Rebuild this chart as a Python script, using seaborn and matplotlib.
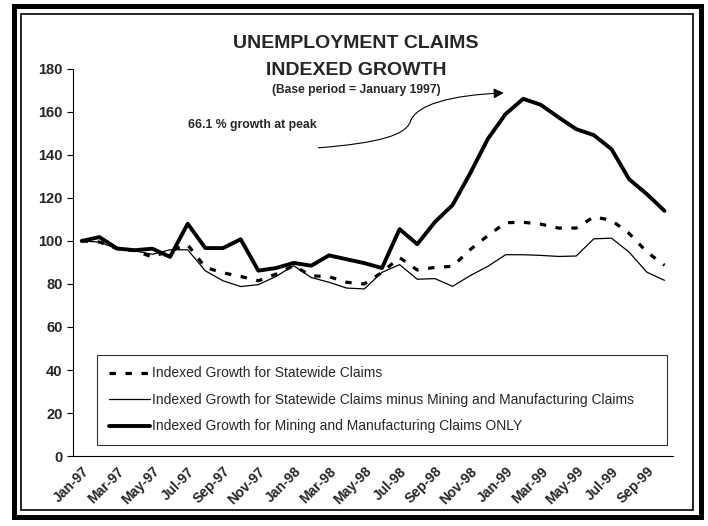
import matplotlib
matplotlib.use("Agg")
import matplotlib.pyplot as plt
import seaborn as sns
from matplotlib.patches import Rectangle, FancyArrowPatch
from matplotlib.path import Path

months = ['Jan-97', 'Feb-97', 'Mar-97', 'Apr-97', 'May-97', 'Jun-97', 'Jul-97', 'Aug-97',
          'Sep-97', 'Oct-97', 'Nov-97', 'Dec-97', 'Jan-98', 'Feb-98', 'Mar-98', 'Apr-98',
          'May-98', 'Jun-98', 'Jul-98', 'Aug-98', 'Sep-98', 'Oct-98', 'Nov-98', 'Dec-98',
          'Jan-99', 'Feb-99', 'Mar-99', 'Apr-99', 'May-99', 'Jun-99', 'Jul-99', 'Aug-99',
          'Sep-99', 'Oct-99']

statewide = [100, 99.5, 96.4, 95.5, 92.5, 95.7, 98.2, 87.7, 85.2, 83.5, 81.5, 84.6,
             88.5, 83.8, 83.4, 80.8, 80.0, 85.4, 92.3, 86.5, 87.7, 88.2, 96.0, 102.5,
             108.5, 108.7, 107.8, 106.0, 106.0, 111.2, 109.6, 103.5, 94.9, 88.7]

statewide_minus = [100, 99.5, 96.3, 95.4, 93.8, 95.9, 95.9, 86.1, 81.5, 78.8, 79.7, 83.5,
                   88.5, 83.0, 80.8, 78.1, 77.7, 85.4, 89.0, 82.2, 82.5, 78.9, 83.9, 88.2,
                   93.6, 93.6, 93.3, 92.8, 93.0, 101.0, 101.3, 94.8, 85.5, 81.7]

mining_mfg = [100, 101.8, 96.5, 95.7, 96.4, 92.6, 108.0, 96.7, 96.7, 100.8, 86.2, 87.4,
              89.8, 88.5, 93.3, 91.5, 89.7, 87.4, 105.5, 98.5, 108.8, 116.7, 131.5, 147.5,
              159.0, 166.1, 163.3, 157.5, 152.0, 149.2, 142.7, 128.7, 121.8, 114.0]

labels = ['Indexed Growth for Statewide Claims',
          'Indexed Growth for Statewide Claims minus Mining and Manufacturing Claims',
          'Indexed Growth for Mining and Manufacturing Claims ONLY']

sns.set_style("white")
plt.rcParams['font.family'] = ['Liberation Sans', 'DejaVu Sans']

x = list(range(len(months)))

fig = plt.figure(figsize=(7.08, 5.26), dpi=100)
ax = fig.add_axes([0.103, 0.133, 0.848, 0.736])

sns.lineplot(x=x, y=statewide, ax=ax, color='black', linewidth=2.3,
             label=labels[0]).lines[-1].set_dashes((2.0, 3.0))
sns.lineplot(x=x, y=statewide_minus, ax=ax, color='black', linewidth=0.9, label=labels[1])
sns.lineplot(x=x, y=mining_mfg, ax=ax, color='black', linewidth=2.8, label=labels[2])

ax.set_xlim(-0.5, len(months) - 0.5)
ax.set_ylim(0, 180)
ax.set_yticks(range(0, 181, 20))
ax.set_yticklabels([str(v) for v in range(0, 181, 20)], fontweight='bold', fontsize=10.5)
ax.set_xticks(x[::2])
ax.set_xticklabels(months[::2], rotation=45, ha='right', rotation_mode='anchor',
                   fontweight='bold', fontsize=10)
ax.set_xticks([i - 0.5 for i in x[::2]] + [len(months) - 0.5], minor=True)
ax.tick_params(axis='x', which='major', length=0, pad=6)
ax.tick_params(axis='x', which='minor', length=4, width=0.8, direction='out', color='black')
ax.tick_params(axis='y', length=4, width=0.8, direction='out', color='black', left=True)
ax.set_xlabel('')
ax.set_ylabel('')
for s in ['top', 'right']:
    ax.spines[s].set_visible(False)
for s in ['left', 'bottom']:
    ax.spines[s].set_color('black')
    ax.spines[s].set_linewidth(0.8)

leg = ax.legend(loc='upper left', bbox_to_anchor=(0.04, 0.262, 0.95, 0.0), mode='expand',
                frameon=True, fancybox=False, shadow=False,
                prop={'size': 10},
                labelspacing=0.9, handlelength=3.0, handletextpad=0.15,
                borderpad=0.85, borderaxespad=0)
leg.get_frame().set_edgecolor('black')
leg.get_frame().set_linewidth(0.8)

fig.text(0.503, 0.918, 'UNEMPLOYMENT CLAIMS', ha='center', va='center',
         fontsize=14, fontweight='bold')
fig.text(0.503, 0.866, 'INDEXED GROWTH', ha='center', va='center',
         fontsize=14, fontweight='bold')
fig.text(0.503, 0.829, '(Base period = January 1997)', ha='center', va='center',
         fontsize=8.7, fontweight='bold')

ax.text(6.0, 154, '66.1 % growth at peak', ha='left', va='center',
        fontsize=8.8, fontweight='bold')
arrow_path = Path([(13.4, 143.3), (16.9, 145.6), (18.3, 149.3), (18.6, 155.3),
                   (18.9, 163.3), (20.9, 167.9), (23.9, 168.8)],
                  [Path.MOVETO, Path.CURVE4, Path.CURVE4, Path.CURVE4,
                   Path.CURVE4, Path.CURVE4, Path.CURVE4])
ax.add_patch(FancyArrowPatch(path=arrow_path, arrowstyle='-|>,head_length=6,head_width=3',
                             color='black', linewidth=0.8, clip_on=False))

W, H = 708, 526
fig.patches.append(Rectangle((13.5 / W, 1 - 517 / H), (701 - 13.5) / W, (517 - 5.5) / H,
                             transform=fig.transFigure, fill=False, edgecolor='black',
                             linewidth=3.6))
fig.patches.append(Rectangle((21 / W, 1 - 510 / H), (693 - 21) / W, (510 - 14) / H,
                             transform=fig.transFigure, fill=False, edgecolor='black',
                             linewidth=1.2))

plt.savefig('out.png', dpi=100)
